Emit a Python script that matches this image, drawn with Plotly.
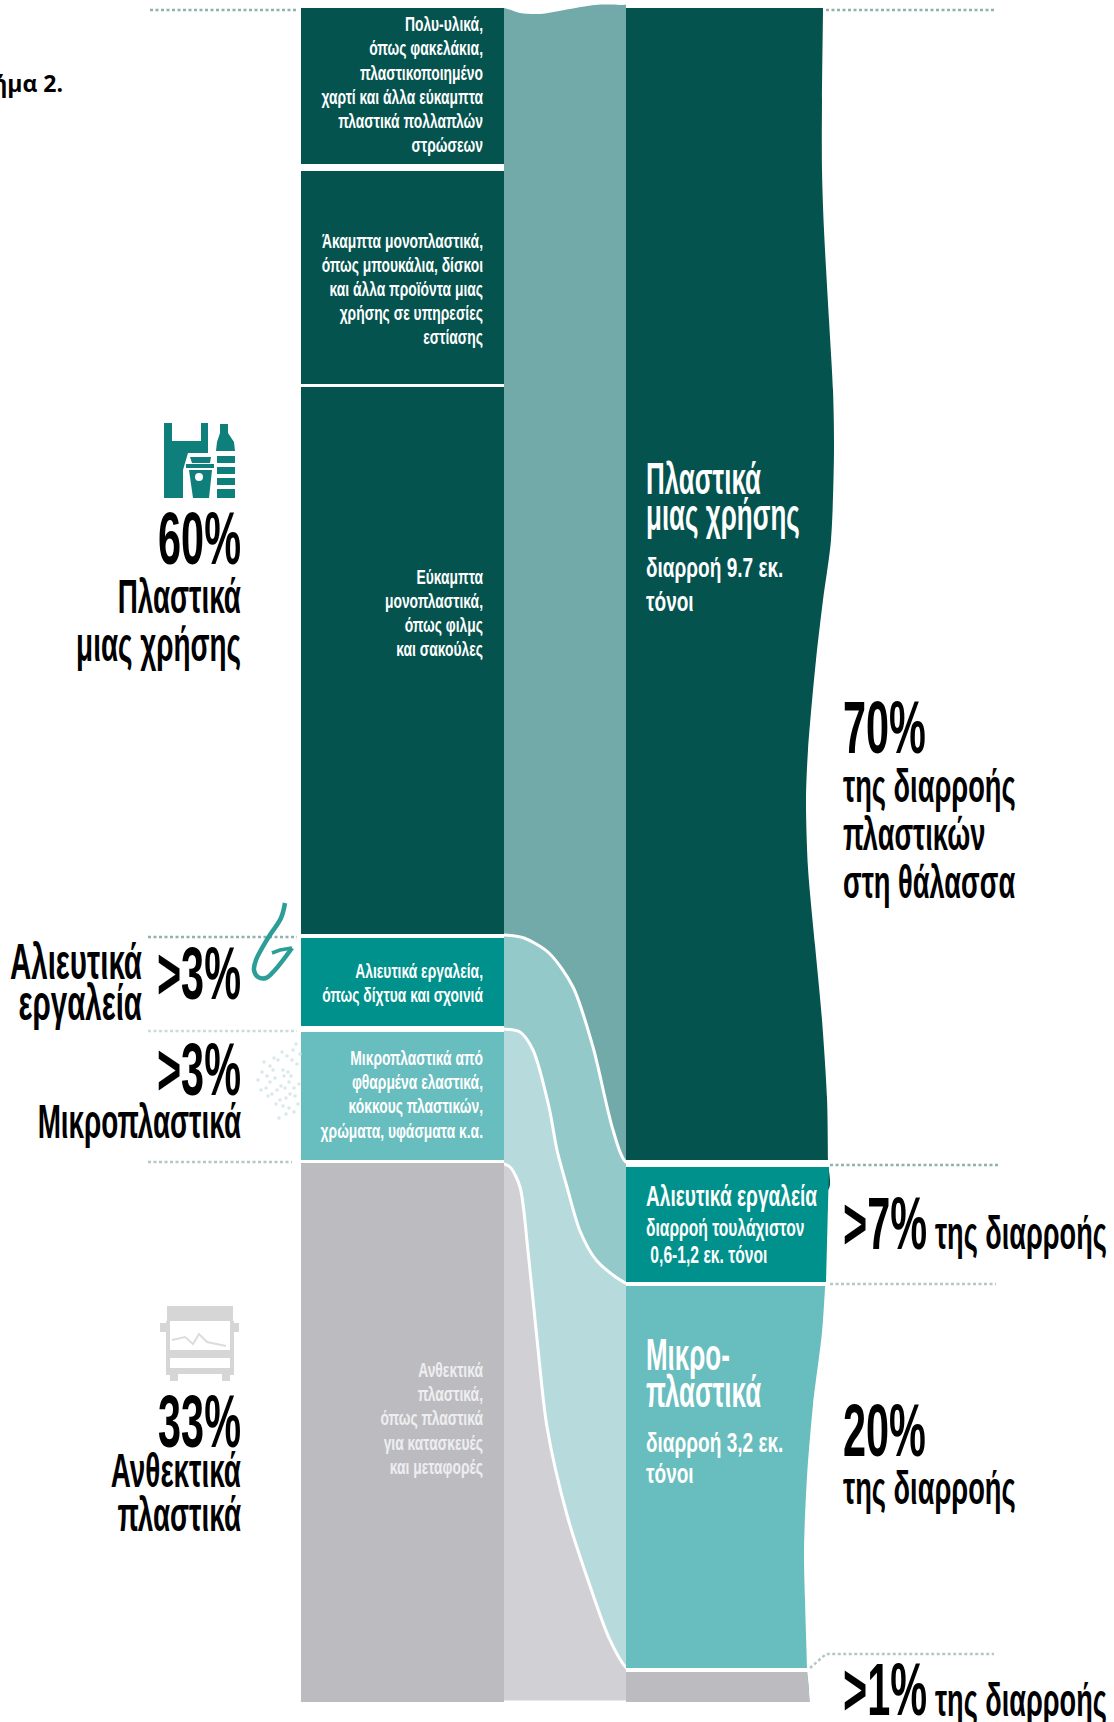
import plotly.graph_objects as go

# ---------- data (chart units = reference pixels) ----------
left_col_x = [301, 504]
right_col_x = [626, 800]

dark_seg_y = [[8, 164], [171, 384], [387, 934]]
fishing_left_y = [938, 1026]
micro_left_y = [1032, 1160]
grey_left_y = [1163, 1702]

flow_top_x = [480, 504, 520, 540, 570, 595, 620, 640]
flow_top_y = [8, 8, 13, 14, 9, 5, 5, 8]

fish_curve_x = [480, 504, 524, 549, 573, 593, 613, 626, 650]
fish_curve_y = [935, 935, 938, 953, 987, 1047, 1130, 1162, 1163]
micro_curve_x = [480, 504, 520, 533, 549, 557, 567, 580, 597, 628, 650]
micro_curve_y = [1029, 1029, 1032, 1050, 1107, 1150, 1187, 1231, 1261, 1284, 1285]
grey_curve_x = [480, 500, 510, 520, 528, 537, 547, 567, 590, 610, 628, 650]
grey_curve_y = [1163, 1163, 1167, 1187, 1251, 1339, 1427, 1515, 1586, 1640, 1669, 1670]

dark_edge_x = [823, 823, 822, 822, 824, 829, 833, 834, 831, 823, 816, 808, 806, 808, 815, 822, 827, 828, 828]
dark_edge_y = [-30, 8, 100, 170, 230, 320, 390, 450, 540, 600, 660, 750, 800, 868, 945, 1020, 1098, 1160, 1190]
micro_edge_x = [826, 822, 813, 807, 804, 805, 807, 807]
micro_edge_y = [1270, 1332, 1405, 1477, 1550, 1600, 1668, 1700]

fishing_right_y = [1167, 1282]
fishing_right_edge = [829, 826]
grey_right_y = [1672, 1702]
grey_right_edge = [807, 810]

dots = [
    ([150, 297], [10, 10]), ([826, 994], [10, 10]),
    ([148, 297], [937, 937]), ([148, 297], [1031, 1031]), ([148, 292], [1162, 1162]),
    ([830, 1000], [1165, 1165]), ([830, 996], [1284, 1284]),
    ([810, 826, 994], [1668, 1654, 1654]),
]

micro_speck_x = [258, 262, 266, 270, 272, 275, 278, 280, 283, 285, 287, 289, 291, 293, 295, 297, 299, 264, 270, 276, 282, 288, 294, 268, 274, 281, 286, 292, 298, 279, 284, 290, 296, 261, 273, 277, 286, 294, 300, 267, 283, 289]
micro_speck_y = [1080, 1072, 1088, 1066, 1094, 1078, 1060, 1100, 1070, 1088, 1056, 1108, 1076, 1050, 1096, 1064, 1084, 1062, 1082, 1104, 1052, 1072, 1112, 1096, 1058, 1086, 1114, 1060, 1104, 1118, 1076, 1094, 1044, 1090, 1070, 1090, 1098, 1088, 1054, 1076, 1106, 1082]

COL = dict(dark="#04534f", darkflow="#72aaa9", fish="#00918c", fishflow="#93cac9",
           micro="#68bdbe", microflow="#b7dbdc", grey="#bcbcc0", greyflow="#d1d1d5")

BIG_L = "Liberation Sans"

left_small_lines = ["Πολυ-υλικά,", "όπως φακελάκια,", "πλαστικοποιημένο", "χαρτί και άλλα εύκαμπτα", "πλαστικά πολλαπλών", "στρώσεων",
                    "Άκαμπτα μονοπλαστικά,", "όπως μπουκάλια, δίσκοι", "και άλλα προϊόντα μιας", "χρήσης σε υπηρεσίες", "εστίασης",
                    "Εύκαμπτα", "μονοπλαστικά,", "όπως φιλμς", "και σακούλες",
                    "Αλιευτικά εργαλεία,", "όπως δίχτυα και σχοινιά",
                    "Μικροπλαστικά από", "φθαρμένα ελαστικά,", "κόκκους πλαστικών,", "χρώματα, υφάσματα κ.α."]
left_small_y = [26, 50, 75, 99, 123, 147, 243, 267, 291, 315, 339, 579, 603, 627, 651, 973, 997, 1060, 1084, 1108, 1133]

grey_small_lines = ["Ανθεκτικά", "πλαστικά,", "όπως πλαστικά", "για κατασκευές", "και μεταφορές"]
grey_small_y = [1372, 1396, 1420, 1445, 1469]

left_pct = ["60%", ">3%", ">3%", "33%"]
left_pct_y = [545, 980, 1076, 1428]
left_lab = ["Πλαστικά", "μιας χρήσης", "Μικροπλαστικά", "Ανθεκτικά", "πλαστικά"]
left_lab_y = [601, 649, 1126, 1475, 1519]
fish_lab = ["Αλιευτικά", "εργαλεία"]
fish_lab_y = [966, 1007]

col_big = ["Πλαστικά", "μιας χρήσης", "Μικρο-", "πλαστικά"]
col_big_y = [483, 519, 1359, 1396]
col_mid = ["διαρροή 9.7 εκ.", "τόνοι", "διαρροή 3,2 εκ.", "τόνοι"]
col_mid_y = [570, 604, 1445, 1476]
col_fish = ["Αλιευτικά εργαλεία"]
col_fish_y = [1199]
col_fish2 = ["διαρροή τουλάχιστον", "\u00a00,6-1,2 εκ. τόνοι"]
col_fish2_y = [1230, 1257]

right_pct = ["70%", ">7%", "20%", ">1%"]
right_pct_y = [734, 1230, 1437, 1696]
right_lab = ["της διαρροής", "πλαστικών", "στη θάλασσα", "της διαρροής"]
right_lab_y = [790, 838, 886, 1492]
right_lab2 = ["της διαρροής", "της διαρροής"]
right_lab2_y = [1237, 1704]

caption = "Σχήμα 2."

fig = go.Figure()

def poly(xs, ys, fill, line="rgba(0,0,0,0)", w=0, shape="linear"):
    fig.add_trace(go.Scatter(x=xs, y=ys, mode="lines", fill="toself", fillcolor=fill,
                             line=dict(color=line, width=w, shape=shape, smoothing=0.8),
                             hoverinfo="skip", showlegend=False))

def rect(x0, x1, y0, y1, c):
    poly([x0, x1, x1, x0, x0], [y0, y0, y1, y1, y0], c)

# flows, back to front
poly(flow_top_x + [640, 640, 480, 480], flow_top_y + [300, 1200, 1200, 300], COL["darkflow"], shape="spline")
poly(fish_curve_x + [650, 480], fish_curve_y + [1400, 1400], COL["fishflow"], "white", 3, "spline")
poly(micro_curve_x + [650, 480], micro_curve_y + [1695, 1695], COL["microflow"], "white", 3, "spline")
poly(grey_curve_x + [650, 626, 504, 480], grey_curve_y + [1702, 1702, 1702, 1702], COL["greyflow"], "white", 3, "spline")
rect(470, 660, 1702, 1722, "white")
rect(470, 504, -30, 8, "white")

# right column: wavy outer edges first, straight body covers the hidden closure
xl = right_col_x[1] - 30
poly(dark_edge_x + [xl, xl], dark_edge_y + [1190, -30], COL["dark"], shape="spline")
poly(micro_edge_x + [xl, xl], micro_edge_y + [1700, 1270], COL["micro"], shape="spline")
rect(right_col_x[0], right_col_x[1], 8, 1160, COL["dark"])
rect(right_col_x[0], right_col_x[1], 1286, 1668, COL["micro"])
rect(right_col_x[0], 850, -40, 8, "white")
rect(right_col_x[0], 835, 1160, 1167, "white")
poly([right_col_x[0], fishing_right_edge[0], fishing_right_edge[1], right_col_x[0]],
     [fishing_right_y[0], fishing_right_y[0], fishing_right_y[1], fishing_right_y[1]], COL["fish"])
rect(right_col_x[0], 835, 1282, 1286, "white")
rect(right_col_x[0], 840, 1668, 1672, "white")
poly([right_col_x[0], grey_right_edge[0], grey_right_edge[1], right_col_x[0]],
     [grey_right_y[0], grey_right_y[0], grey_right_y[1], grey_right_y[1]], COL["grey"])
rect(812, 860, 1672, 1722, "white")
rect(right_col_x[0], 860, 1702, 1722, "white")

# left column
rect(left_col_x[0], left_col_x[1], 0, 1702, "white")
for seg in dark_seg_y:
    rect(left_col_x[0], left_col_x[1], seg[0], seg[1], COL["dark"])
rect(left_col_x[0], left_col_x[1], fishing_left_y[0], fishing_left_y[1], COL["fish"])
rect(left_col_x[0], left_col_x[1], micro_left_y[0], micro_left_y[1], COL["micro"])
rect(left_col_x[0], left_col_x[1], grey_left_y[0], grey_left_y[1], COL["grey"])

# dotted leaders
for i, (dx, dy) in enumerate(dots):
    c = "#c9dedb" if i == 3 else ("#8fb2ae" if i in (0, 1, 2, 5) else "#b4c8c6")
    fig.add_trace(go.Scatter(x=dx, y=dy, mode="lines", line=dict(color=c, width=2.5, dash="3px,2.5px"),
                             hoverinfo="skip", showlegend=False))

# micro speck icon
fig.add_trace(go.Scatter(x=micro_speck_x, y=micro_speck_y, mode="markers",
                         marker=dict(size=3.5, color="#d3e7e5", opacity=0.9), hoverinfo="skip", showlegend=False))

# hook
fig.add_trace(go.Scatter(x=[285, 281, 268, 256, 254, 258, 266, 275, 292], y=[903, 918, 938, 960, 970, 977, 978, 970, 948],
                         mode="lines", line=dict(color="#2d9d98", width=4.5, shape="spline"),
                         hoverinfo="skip", showlegend=False))
fig.add_trace(go.Scatter(x=[292, 280, 272], y=[948, 950, 953], mode="lines", line=dict(color="#2d9d98", width=3.5),
                         hoverinfo="skip", showlegend=False))

# bag + cup + bottle icon
TEAL = "#0f7f7b"
poly([164, 172, 172, 201, 201, 208, 208, 188, 183, 183, 164, 164],
     [423, 423, 441, 441, 423, 423, 453, 453, 470, 498, 498, 423], TEAL)
poly([186, 214, 214, 186, 186], [464, 464, 468, 468, 464], TEAL)
poly([190, 211, 210, 192, 190], [457, 457, 463, 463, 457], TEAL)
poly([189, 212, 209, 193, 189], [470, 470, 498, 498, 470], TEAL)
poly([220, 228, 228, 234, 235, 216, 217, 220, 220], [424, 424, 433, 442, 451, 451, 442, 433, 424], TEAL)
for y0, y1 in [[456, 463], [467, 474], [478, 485], [489, 498]]:
    rect(217, 235, y0, y1, TEAL)
fig.add_trace(go.Scatter(x=[199], y=[477], mode="markers", marker=dict(size=8, color="white"),
                         hoverinfo="skip", showlegend=False))

# bus icon
BUS = "#d6d6d6"
poly([167, 233, 233, 167, 167], [1306, 1306, 1321, 1321, 1306], BUS)
poly([166, 170, 170, 166, 166], [1321, 1321, 1375, 1375, 1321], BUS)
poly([230, 234, 234, 230, 230], [1321, 1321, 1375, 1375, 1321], BUS)
poly([170, 230, 230, 170, 170], [1350, 1350, 1358, 1358, 1350], BUS)
poly([170, 230, 230, 170, 170], [1368, 1368, 1374, 1374, 1368], BUS)
poly([160, 166, 166, 160, 160], [1323, 1323, 1332, 1332, 1323], BUS)
poly([234, 239, 239, 234, 234], [1323, 1323, 1332, 1332, 1323], BUS)
poly([170, 178, 178, 170, 170], [1374, 1374, 1381, 1381, 1374], BUS)
poly([222, 230, 230, 222, 222], [1374, 1374, 1381, 1381, 1374], BUS)
fig.add_trace(go.Scatter(x=[172, 185, 193, 199, 207, 226], y=[1340, 1337, 1344, 1334, 1342, 1346], mode="lines",
                         line=dict(color="#dcdcdc", width=2), hoverinfo="skip", showlegend=False))

# text groups: meta holds horizontal squeeze
def text(lines, x, ys, size, color="black", weight="bold", pos="middle left", squeeze=0.6):
    fig.add_trace(go.Scatter(x=[x] * len(lines), y=ys, mode="text", text=lines, textposition=pos,
                             textfont=dict(family=BIG_L, size=size, color=color, weight=weight),
                             meta=squeeze, hoverinfo="skip", showlegend=False, cliponaxis=False))

text(left_small_lines, 483, left_small_y, 21, "white", "bold", squeeze=0.66)
text(grey_small_lines, 483, grey_small_y, 21, "#eeeef0", "bold", squeeze=0.66)
text(left_pct, 241, left_pct_y, 74, squeeze=0.56)
text(left_lab, 241, left_lab_y, 48, squeeze=0.58)
text(fish_lab, 142, fish_lab_y, 50, squeeze=0.59)
text(col_big, 646, col_big_y, 44, "white", "bold", "middle right", 0.59)
text(col_mid, 646, col_mid_y, 28, "white", "bold", "middle right", 0.68)
text(col_fish, 646, col_fish_y, 29, "white", "bold", "middle right", 0.66)
text(col_fish2, 646, col_fish2_y, 23, "white", "bold", "middle right", 0.68)
text(right_pct, 843, right_pct_y, 74, pos="middle right", squeeze=0.56)
text(right_lab, 843, right_lab_y, 47, pos="middle right", squeeze=0.58)
text(right_lab2, 935, right_lab2_y, 46, pos="middle right", squeeze=0.59)

fig.add_trace(go.Scatter(x=[63], y=[86], mode="text", text=[caption], textposition="middle left",
                         textfont=dict(family="Open Sans", size=23, color="black", weight="bold"),
                         hoverinfo="skip", showlegend=False, cliponaxis=False))

fig.update_layout(width=1114, height=1722, margin=dict(l=0, r=0, t=0, b=0),
                  paper_bgcolor="white", plot_bgcolor="white", showlegend=False,
                  xaxis=dict(range=[0, 1114], visible=False, fixedrange=True),
                  yaxis=dict(range=[1722, 0], visible=False, fixedrange=True))

post = """
document.body.style.margin='0';
var gd=document.getElementById('{plot_id}');
var tr=gd.querySelectorAll('.scatterlayer .trace');
tr.forEach(function(g,i){
  var k=gd._fullData[i].meta; if(!k) return;
  g.querySelectorAll('.textpoint text').forEach(function(t){
    t.setAttribute('textLength',t.getComputedTextLength()*k);
    t.setAttribute('lengthAdjust','spacingAndGlyphs');
  });
});
"""
fig.write_html("out.html", config=dict(displayModeBar=False, responsive=False), post_script=post)
